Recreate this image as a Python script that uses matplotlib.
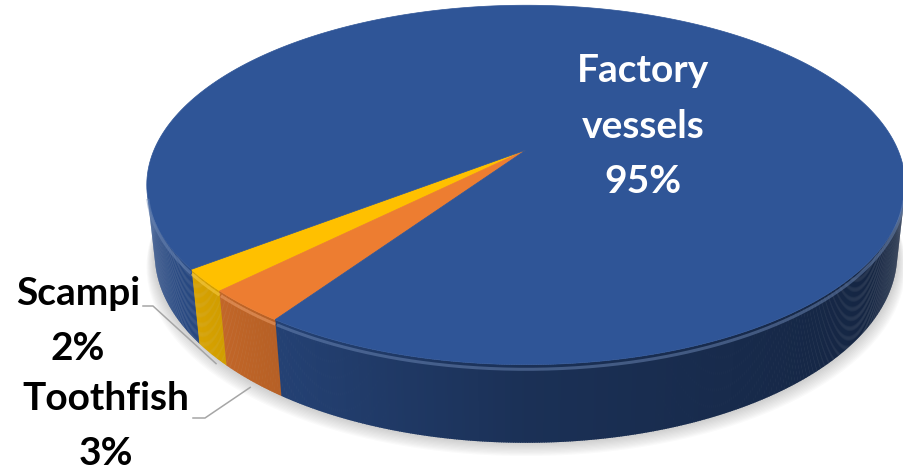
import numpy as np
import matplotlib.pyplot as plt
from matplotlib.patches import Polygon
from matplotlib.collections import PolyCollection
from matplotlib.colors import to_rgb

# Datos (orden antihorario desde el borde izquierdo de "Scampi")
categories = ["Scampi", "Toothfish", "Factory vessels"]
values = [2, 3, 95]
colors = ["#FFC000", "#ED7D31", "#2F5597"]
start_deg = 217.5

# Geometría de la vista en perspectiva (en píxeles)
cx, cy = 526, 150
kx, ky = 1700.0, 1722.9
elev = np.deg2rad(27.3)
dist = 4.57
thick = 0.206
sin_e, cos_e = np.sin(elev), np.cos(elev)


def project(theta, z):
    X, Y = np.cos(theta), np.sin(theta)
    yc = Y * sin_e + z * cos_e
    depth = dist + Y * cos_e - z * sin_e
    return cx + kx * X / depth, cy - ky * yc / depth


def side_factor(theta):
    c = np.cos(theta - np.pi)
    return np.interp(c, [-1, 0, 1], [0.42, 0.57, 0.92])


fig = plt.figure(figsize=(9.04, 4.76), dpi=100)
ax = fig.add_axes([0, 0, 1, 1])
ax.set_xlim(0, 904)
ax.set_ylim(476, 0)
ax.axis('off')

fracs = np.array(values) / sum(values)
bounds = np.deg2rad(start_deg + 360 * np.concatenate([[0], np.cumsum(fracs)]))

# sombra
full = np.linspace(0, 2 * np.pi, 400)
for i in range(12):
    sx, sy = project(full, -thick)
    ax.add_patch(Polygon(np.column_stack([cx + (sx - cx) * (1 + 0.002 * i), sy + 1.2 * i]),
                         closed=True, fc='#7F7F7F', ec='none', alpha=0.035, zorder=1))

# pared lateral visible
vis0 = np.pi + np.arcsin(1 / (dist * cos_e))
vis1 = 2 * np.pi - np.arcsin(1 / (dist * cos_e))


def slice_of(angle):
    for j in range(len(values)):
        if (angle - bounds[j]) % (2 * np.pi) < bounds[j + 1] - bounds[j]:
            return j
    return len(values) - 1


polys, fcs = [], []
grid = np.linspace(vis0, vis1, 500)
for a, b in zip(grid[:-1], grid[1:]):
    mid = (a + b) / 2
    idx = slice_of(mid)
    t = np.array([a, b + 0.002])
    x0, y0 = project(t, 0)
    x1, y1 = project(t[::-1], -thick)
    polys.append(np.column_stack([np.r_[x0, x1], np.r_[y0, y1]]))
    fcs.append(np.clip(np.array(to_rgb(colors[idx])) * side_factor(mid), 0, 1))
ax.add_collection(PolyCollection(polys, facecolors=fcs, edgecolors='none', zorder=2))

# cara superior
for j in range(len(values)):
    t = np.linspace(bounds[j], bounds[j + 1], 300)
    px, py = project(t, 0)
    ax.add_patch(Polygon(np.column_stack([np.r_[cx, px], np.r_[cy, py]]),
                         closed=True, fc=colors[j], ec=colors[j], lw=0.5, zorder=3))

# brillo del borde (solo la parte delantera)
t_front = np.linspace(vis0, vis1, 600)
for j in range(len(values)):
    m = np.array([slice_of(a) == j for a in t_front])
    if m.sum() < 2:
        continue
    tj = np.where(m, t_front, np.nan)
    px, py = project(tj, -0.012)
    light = 1 - (1 - np.array(to_rgb(colors[j]))) * 0.7
    ax.plot(px, py, color=light, lw=2.2, alpha=0.5, zorder=4, solid_capstyle='butt')

# etiquetas
lab_font = dict(family='Lato', fontweight='bold', fontsize=28)
ax.text(643, 193, categories[2].replace(' ', '\n') + f"\n{values[2]}%", color='white',
        ha='center', va='baseline', linespacing=1.7, zorder=6, **lab_font)

label_pos = {"Scampi": (78, 360), "Toothfish": (106, 465)}
elbow = {"Scampi": (143, 153, 306), "Toothfish": (193, 205, 418)}
tip_off = {"Scampi": (4, 9), "Toothfish": (-2, 6)}
for j in range(2):
    name = categories[j]
    lx, ly = label_pos[name]
    ax.text(lx, ly, f"{name}\n{values[j]}%", color='black', ha='center', va='baseline',
            linespacing=1.7, zorder=6, **lab_font)
    mid = (bounds[j] + bounds[j + 1]) / 2
    ex, ey = project(mid, -thick)
    x0, x1, yl = elbow[name]
    dx, dy = tip_off[name]
    ax.plot([x0, x1, ex + dx], [yl, yl, ey + dy], color='#A6A6A6', lw=1.1, zorder=5)

fig.savefig('out.png', dpi=100)
plt.close(fig)
